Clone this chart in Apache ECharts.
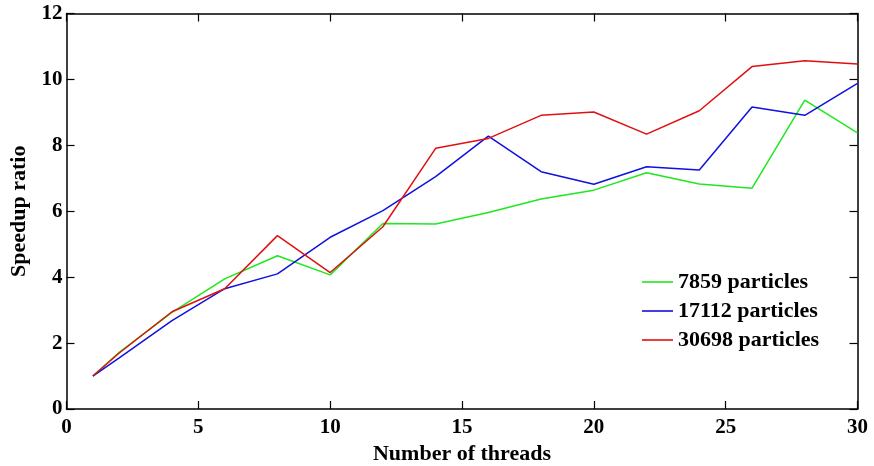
<!DOCTYPE html>
<html>
<head>
<meta charset="utf-8">
<script src="https://cdn.jsdelivr.net/npm/echarts@6/dist/echarts.min.js"></script>
<style>html,body{margin:0;padding:0;background:#fff;}#c{width:874px;height:466px;}</style>
</head>
<body>
<div id="c"></div>
<script>
const threads = [1, 2, 4, 6, 8, 10, 12, 14, 16, 18, 20, 22, 24, 26, 28, 30];
const speedup7859 = [1.0, 1.72, 2.93, 3.95, 4.65, 4.07, 5.63, 5.61, 5.96, 6.37, 6.64, 7.17, 6.83, 6.70, 9.37, 8.38];
const speedup17112 = [1.0, 1.55, 2.68, 3.65, 4.10, 5.21, 6.02, 7.05, 8.28, 7.20, 6.82, 7.35, 7.25, 9.16, 8.91, 9.88];
const speedup30698 = [1.0, 1.70, 2.95, 3.65, 5.26, 4.14, 5.53, 7.91, 8.21, 8.91, 9.01, 8.34, 9.05, 10.39, 10.57, 10.47];
const seriesNames = ['7859 particles', '17112 particles', '30698 particles'];
const seriesColors = ['#1ee81e', '#1010e0', '#e01010'];
const xTicks = [0, 5, 10, 15, 20, 25, 30];
const yTicks = [0, 2, 4, 6, 8, 10, 12];

const FONT = '"Liberation Serif", "Times New Roman", serif';
const pairs = ys => threads.map((x, i) => [x, ys[i]]);
const allData = [speedup7859, speedup17112, speedup30698];

const axisCommon = {
  axisLine: { show: true, onZero: false, lineStyle: { color: '#000', width: 1.5 } },
  axisTick: { show: true, inside: true, length: 8, lineStyle: { color: '#000', width: 1.2 } },
  splitLine: { show: false }
};

const chart = echarts.init(document.getElementById('c'));
chart.setOption({
  animation: false,
  backgroundColor: '#fff',
  grid: { left: 66.5, right: 16.5, top: 13.5, bottom: 57, outerBoundsMode: 'none', containLabel: false },
  legend: {
    orient: 'vertical',
    left: 637,
    top: 266,
    icon: 'rect',
    itemWidth: 31,
    itemHeight: 1.6,
    itemGap: 7,
    data: seriesNames,
    textStyle: { fontFamily: FONT, fontWeight: 'bold', fontSize: 22, color: '#000', lineHeight: 22 }
  },
  xAxis: [
    Object.assign({}, axisCommon, {
      type: 'value', min: xTicks[0], max: xTicks[xTicks.length - 1], interval: 5,
      name: 'Number of threads', nameLocation: 'middle', nameGap: 32,
      nameTextStyle: { fontFamily: FONT, fontWeight: 'bold', fontSize: 22, color: '#000' },
      axisLabel: { fontFamily: FONT, fontWeight: 'bold', fontSize: 21, color: '#000', margin: 8 }
    }),
    Object.assign({}, axisCommon, {
      type: 'value', position: 'top', min: xTicks[0], max: xTicks[xTicks.length - 1], interval: 5,
      axisLabel: { show: false }
    })
  ],
  yAxis: [
    Object.assign({}, axisCommon, {
      type: 'value', min: yTicks[0], max: yTicks[yTicks.length - 1], interval: 2,
      name: 'Speedup ratio', nameLocation: 'middle', nameGap: 31, nameRotate: 90,
      nameTextStyle: { fontFamily: FONT, fontWeight: 'bold', fontSize: 22, color: '#000' },
      axisLabel: { fontFamily: FONT, fontWeight: 'bold', fontSize: 21, color: '#000', margin: 4 }
    }),
    Object.assign({}, axisCommon, {
      type: 'value', position: 'right', min: yTicks[0], max: yTicks[yTicks.length - 1], interval: 2,
      axisLabel: { show: false }
    })
  ],
  series: seriesNames.map((name, i) => ({
    name: name,
    type: 'line',
    data: pairs(allData[i]),
    symbol: 'none',
    smooth: false,
    color: seriesColors[i],
    lineStyle: { color: seriesColors[i], width: 1.5 },
    z: 2 + i
  }))
});
</script>
</body>
</html>
